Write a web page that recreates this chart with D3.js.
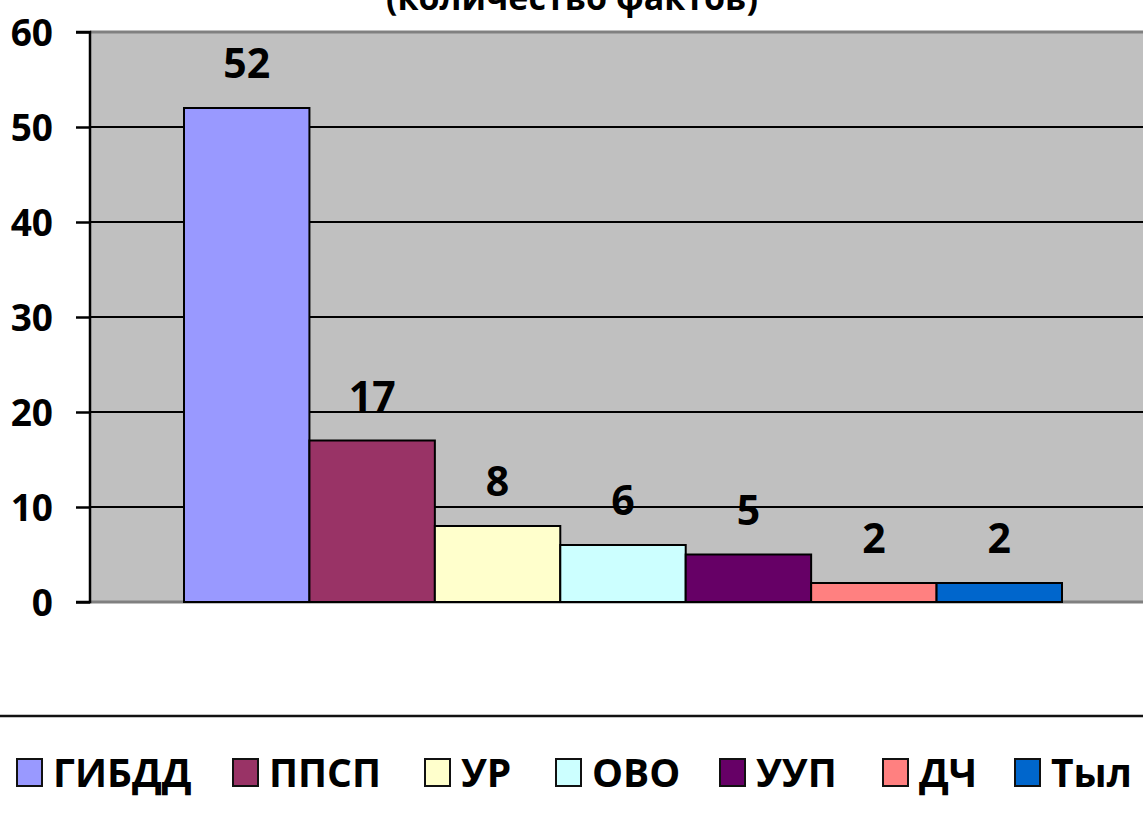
<!DOCTYPE html>
<html lang="ru">
<head>
  <meta charset="UTF-8">
  <title>Количество фактов</title>
  <script src="https://d3js.org/d3.v7.min.js"></script>
  <style>
    body, html {
      margin: 0;
      padding: 0;
      overflow: hidden;
      background: #fff;
    }
    text {
      font-family: "Open Sans", "Noto Sans", sans-serif;
      font-weight: bold;
    }
  </style>
</head>
<body>
<script>
  // data
  const services = ["ГИБДД", "ППСП", "УР", "ОВО", "УУП", "ДЧ", "Тыл"];
  const facts = [52, 17, 8, 6, 5, 2, 2];
  const colors = ["#9999ff", "#993366", "#ffffcc", "#ccffff", "#660066", "#ff8080", "#0066cc"];
  const yTicks = [0, 10, 20, 30, 40, 50, 60];
  const title = "(количество фактов)";

  const W = 1143, H = 824;

  // plot area (runs past the right edge like the original)
  const plot = { left: 90, top: 32, right: 1156, bottom: 602 };

  const svg = d3.select("body").append("svg")
    .attr("width", W)
    .attr("height", H);

  // title, mostly cut off at the top
  svg.append("text")
    .attr("x", 572)
    .attr("y", 10)
    .attr("text-anchor", "middle")
    .attr("font-size", "34px")
    .text(title);

  const y = d3.scaleLinear()
    .domain([0, 60])
    .range([plot.bottom, plot.top]);

  // one category, seven series side by side
  const x = d3.scaleBand()
    .domain(services)
    .range([plot.left + 94, plot.right - 94])
    .paddingInner(0);

  // background
  svg.append("rect")
    .attr("x", plot.left)
    .attr("y", plot.top)
    .attr("width", plot.right - plot.left)
    .attr("height", plot.bottom - plot.top)
    .attr("fill", "#c0c0c0");

  // top & bottom border in gray
  svg.append("line")
    .attr("x1", plot.left).attr("x2", plot.right)
    .attr("y1", plot.top).attr("y2", plot.top)
    .attr("stroke", "#808080").attr("stroke-width", 3);
  svg.append("line")
    .attr("x1", plot.left).attr("x2", plot.right)
    .attr("y1", plot.bottom).attr("y2", plot.bottom)
    .attr("stroke", "#808080").attr("stroke-width", 3);

  // grid lines
  svg.append("g")
    .selectAll("line")
    .data(yTicks.filter(d => d > 0 && d < 60))
    .join("line")
    .attr("x1", plot.left).attr("x2", plot.right)
    .attr("y1", d => y(d)).attr("y2", d => y(d))
    .attr("stroke", "#000").attr("stroke-width", 2);

  // bars
  svg.append("g")
    .selectAll("rect")
    .data(facts)
    .join("rect")
    .attr("x", (d, i) => x(services[i]))
    .attr("y", d => y(d))
    .attr("width", x.bandwidth())
    .attr("height", d => y(0) - y(d))
    .attr("fill", (d, i) => colors[i])
    .attr("stroke", "#000")
    .attr("stroke-width", 2);

  // value labels
  svg.append("g")
    .selectAll("text")
    .data(facts)
    .join("text")
    .attr("x", (d, i) => x(services[i]) + x.bandwidth() / 2)
    .attr("y", d => y(d) - 30)
    .attr("text-anchor", "middle")
    .attr("font-size", "41px")
    .text(d => d);

  // y axis
  const yAxis = d3.axisLeft(y)
    .tickValues(yTicks)
    .tickSize(14)
    .tickPadding(23);

  const ag = svg.append("g")
    .attr("transform", `translate(${plot.left},0)`)
    .call(yAxis);
  ag.select(".domain").attr("stroke", "#000").attr("stroke-width", 2.5)
    .attr("d", `M-14,${plot.top}H0V${plot.bottom}H-14`);
  ag.selectAll(".tick line").attr("stroke", "#000").attr("stroke-width", 2.5);
  ag.selectAll(".tick text")
    .attr("font-size", "37px")
    .attr("font-family", "'Open Sans', 'Noto Sans', sans-serif")
    .attr("font-weight", "bold")
    .attr("fill", "#000")
    .attr("dy", "0.36em");

  // separator above the legend
  svg.append("line")
    .attr("x1", 0).attr("x2", W)
    .attr("y1", 716).attr("y2", 716)
    .attr("stroke", "#111").attr("stroke-width", 2.5);

  // legend
  const legendX = [17, 233, 425, 556, 720, 883, 1015];
  const lg = svg.append("g")
    .selectAll("g")
    .data(services)
    .join("g")
    .attr("transform", (d, i) => `translate(${legendX[i]},759)`);

  lg.append("rect")
    .attr("width", 25)
    .attr("height", 27)
    .attr("fill", (d, i) => colors[i])
    .attr("stroke", "#111")
    .attr("stroke-width", 2);

  lg.append("text")
    .attr("x", 36)
    .attr("y", 28)
    .attr("font-size", "39px")
    .text(d => d);
</script>
</body>
</html>
